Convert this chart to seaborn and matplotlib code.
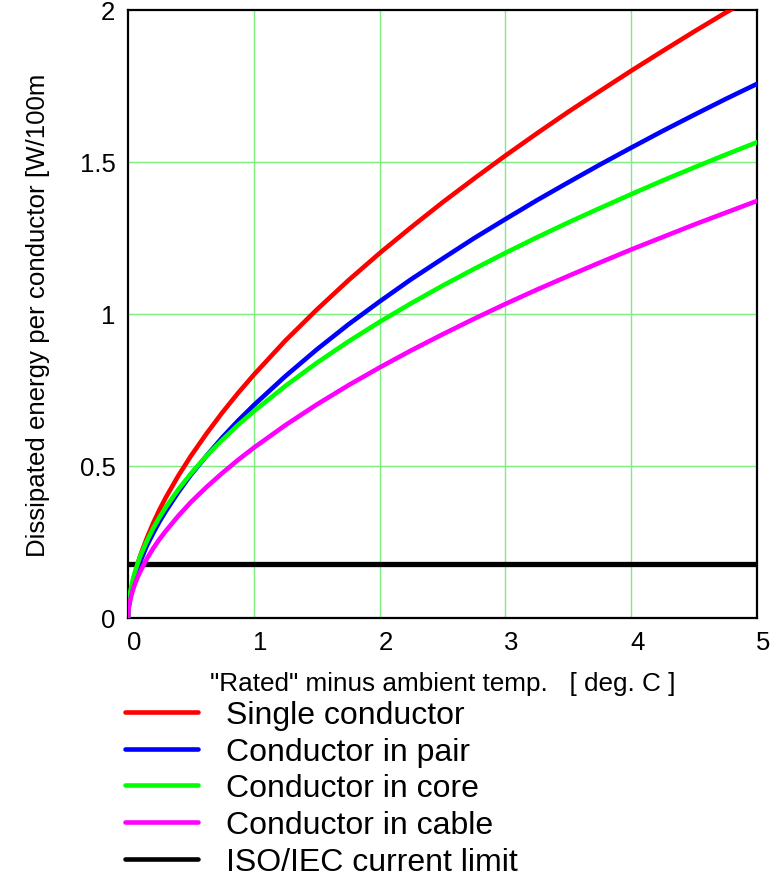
import numpy as np
import pandas as pd
import matplotlib
matplotlib.use("Agg")
import matplotlib.pyplot as plt
import matplotlib.transforms as mtransforms
from matplotlib.lines import Line2D
import seaborn as sns

# ---- data ----
x_vals = [0, 0.002, 0.005, 0.01, 0.02, 0.035, 0.05, 0.075, 0.1, 0.15, 0.2, 0.25, 0.3, 0.4, 0.5,
          0.625, 0.75, 0.875, 1, 1.25, 1.5, 1.75, 2, 2.25, 2.5, 2.75, 3, 3.25, 3.5, 3.75, 4,
          4.25, 4.5, 4.75, 5]
single = [0, 0.021, 0.036, 0.054, 0.081, 0.111, 0.139, 0.176, 0.208, 0.263, 0.312, 0.356, 0.396,
          0.468, 0.533, 0.607, 0.676, 0.740, 0.80, 0.912, 1.014, 1.110, 1.20, 1.285, 1.367,
          1.445, 1.521, 1.594, 1.665, 1.733, 1.80, 1.865, 1.929, 1.991, 2.051]
pair = [0, 0.020, 0.034, 0.050, 0.075, 0.103, 0.126, 0.160, 0.188, 0.238, 0.279, 0.317, 0.351,
        0.414, 0.471, 0.534, 0.594, 0.649, 0.70, 0.795, 0.883, 0.965, 1.041, 1.114, 1.182,
        1.249, 1.312, 1.374, 1.433, 1.491, 1.547, 1.602, 1.655, 1.707, 1.757]
core = [0, 0.027, 0.044, 0.063, 0.090, 0.120, 0.144, 0.177, 0.206, 0.253, 0.295, 0.331, 0.364,
        0.423, 0.475, 0.534, 0.586, 0.635, 0.68, 0.763, 0.839, 0.909, 0.974, 1.035, 1.093,
        1.148, 1.201, 1.252, 1.301, 1.348, 1.394, 1.439, 1.482, 1.524, 1.565]
cable = [0, 0.017, 0.029, 0.043, 0.063, 0.087, 0.106, 0.133, 0.155, 0.195, 0.229, 0.259, 0.286,
         0.336, 0.381, 0.431, 0.477, 0.520, 0.56, 0.634, 0.702, 0.765, 0.824, 0.880, 0.933,
         0.984, 1.033, 1.080, 1.125, 1.169, 1.212, 1.253, 1.294, 1.333, 1.372]
iso_x = [0, 5]
iso_y = [0.178, 0.178]

series_names = ["Single conductor", "Conductor in pair", "Conductor in core",
                "Conductor in cable", "ISO/IEC current limit"]
colors = ["#ff0000", "#0000ff", "#00ff00", "#ff00ff", "#000000"]
x_ticks = [0, 1, 2, 3, 4, 5]
y_ticks = [0, 0.5, 1, 1.5, 2]
y_tick_labels = ["0", "0.5", "1", "1.5", "2"]

rows = []
for name, ys in zip(series_names[:4], [single, pair, core, cable]):
    for xv, yv in zip(x_vals, ys):
        rows.append((xv, yv, name))
df = pd.DataFrame(rows, columns=["x", "y", "series"])
iso_df = pd.DataFrame({"x": iso_x, "y": iso_y})

sns.set_style("white")
plt.rcParams["font.family"] = ["Liberation Sans", "DejaVu Sans"]
plt.rcParams["text.color"] = "black"

fig = plt.figure(figsize=(7.81, 8.79), dpi=100)
ax = fig.add_axes([128 / 781, 1 - 619 / 879, 629 / 781, 608 / 879])

# grid
for xv in x_ticks[1:-1]:
    ax.axvline(xv, color="#7dee7d", lw=1.0, zorder=0)
for yv in y_ticks[1:-1]:
    ax.axhline(yv, color="#7dee7d", lw=1.0, zorder=0)

sns.lineplot(data=iso_df, x="x", y="y", color="black", linewidth=3.8, ax=ax, zorder=2)
sns.lineplot(data=df, x="x", y="y", hue="series", hue_order=series_names[:4],
             palette=colors[:4], linewidth=3.3, legend=False, ax=ax, zorder=3,
             estimator=None, sort=False)

ax.set_xlim(0, 5)
ax.set_ylim(0, 2)
ax.set_xticks(x_ticks)
ax.set_yticks(y_ticks)
ax.set_yticklabels(y_tick_labels)
ax.tick_params(axis="both", length=0, labelsize=18.5, colors="black")
ax.tick_params(axis="x", pad=9)
ax.tick_params(axis="y", pad=9)
offset = mtransforms.ScaledTranslation(6 / 100, 0, fig.dpi_scale_trans)
for lab in ax.get_xticklabels():
    lab.set_transform(lab.get_transform() + offset)

for sp in ax.spines.values():
    sp.set_color("black")
    sp.set_linewidth(1.6)
    sp.set_visible(True)

ax.set_xlabel('"Rated" minus ambient temp.   [ deg. C ]', fontsize=18.8, color="black")
ax.xaxis.set_label_coords(0.5, -0.087)
ax.set_ylabel("Dissipated energy per conductor [W/100m", fontsize=18.6, color="black")
ax.yaxis.set_label_coords(-0.124, 0.5)

handles = [Line2D([0], [0], color=c, lw=3.3, solid_capstyle="round") for c in colors]
leg = fig.legend(handles, series_names, loc="upper left",
                 bbox_to_anchor=(125 / 781, 1 - 701 / 879), frameon=False,
                 fontsize=23, handlelength=2.3, handletextpad=0.85,
                 labelspacing=0.21, borderpad=0, borderaxespad=0)
for t in leg.get_texts():
    t.set_color("black")

fig.savefig("out.png", dpi=100)
